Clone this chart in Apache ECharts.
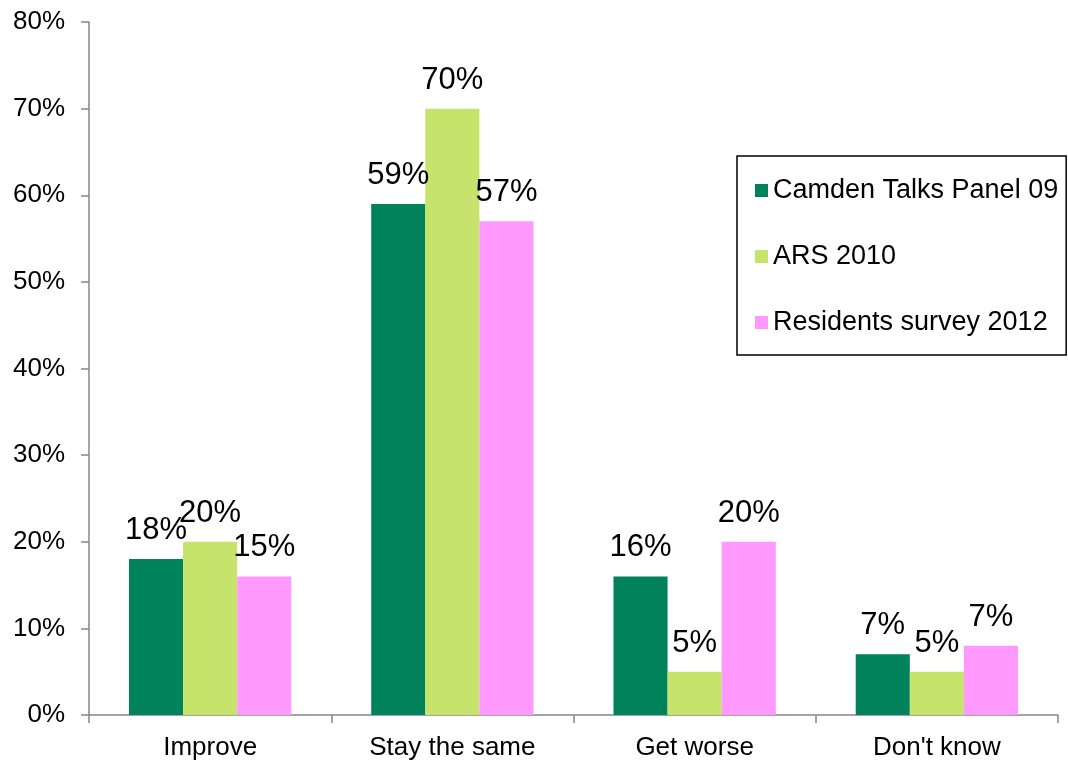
<!DOCTYPE html>
<html>
<head>
<meta charset="utf-8">
<script src="https://cdn.jsdelivr.net/npm/echarts@6/dist/echarts.min.js"></script>
<style>
html,body{margin:0;padding:0;background:#fff;}
#chart{width:1068px;height:761px;}
</style>
</head>
<body>
<div id="chart"></div>
<script>
const categories = ['Improve', 'Stay the same', 'Get worse', "Don't know"];
const seriesNames = ['Camden Talks Panel 09', 'ARS 2010', 'Residents survey 2012'];
const camdenValues = [18, 59, 16, 7];
const arsValues = [20, 70, 5, 5];
const residentsValues = [16, 57, 20, 8];
const camdenLabels = ['18%', '59%', '16%', '7%'];
const arsLabels = ['20%', '70%', '5%', '5%'];
const residentsLabels = ['15%', '57%', '20%', '7%'];
const yTicks = [0, 10, 20, 30, 40, 50, 60, 70, 80];

const FONT = '"Liberation Sans", Arial, sans-serif';
const colors = ['#00825A', '#C6E46C', '#FF99FF'];
const valueSets = [camdenValues, arsValues, residentsValues];
const labelSets = [camdenLabels, arsLabels, residentsLabels];

const chart = echarts.init(document.getElementById('chart'), null, {renderer: 'canvas'});
const option = {
  animation: false,
  backgroundColor: '#ffffff',
  textStyle: {fontFamily: FONT},
  grid: {left: 89, right: 10, top: 22, bottom: 45, containLabel: false},
  legend: {
    orient: 'vertical',
    left: 737,
    top: 156,
    padding: [21, 8, 19, 18],
    itemGap: 39,
    itemWidth: 13,
    itemHeight: 13,
    icon: 'rect',
    borderColor: '#000000',
    borderWidth: 1.5,
    data: seriesNames,
    textStyle: {fontFamily: FONT, fontSize: 27, color: '#000', lineHeight: 26}
  },
  xAxis: {
    type: 'category',
    data: categories,
    axisLine: {show: true, lineStyle: {color: '#868686', width: 1.5}},
    axisTick: {show: true, length: 8, lineStyle: {color: '#868686', width: 1.5}},
    axisLabel: {fontFamily: FONT, fontSize: 26, color: '#000', margin: 20}
  },
  yAxis: {
    type: 'value',
    min: yTicks[0],
    max: yTicks[yTicks.length - 1],
    interval: yTicks[1] - yTicks[0],
    splitLine: {show: false},
    axisLine: {show: true, lineStyle: {color: '#868686', width: 1.5}},
    axisTick: {show: true, length: 8, lineStyle: {color: '#868686', width: 1.5}},
    axisLabel: {fontFamily: FONT, fontSize: 26, color: '#000', margin: 24, formatter: '{value}%'}
  },
  series: seriesNames.map((name, i) => ({
    name: name,
    type: 'bar',
    data: valueSets[i],
    barGap: '0%',
    barCategoryGap: '33%',
    itemStyle: {color: colors[i]},
    label: {
      show: true,
      position: 'top',
      distance: 13,
      fontFamily: FONT,
      fontSize: 31,
      color: '#000',
      formatter: p => labelSets[i][p.dataIndex]
    }
  }))
};
chart.setOption(option);
</script>
</body>
</html>
